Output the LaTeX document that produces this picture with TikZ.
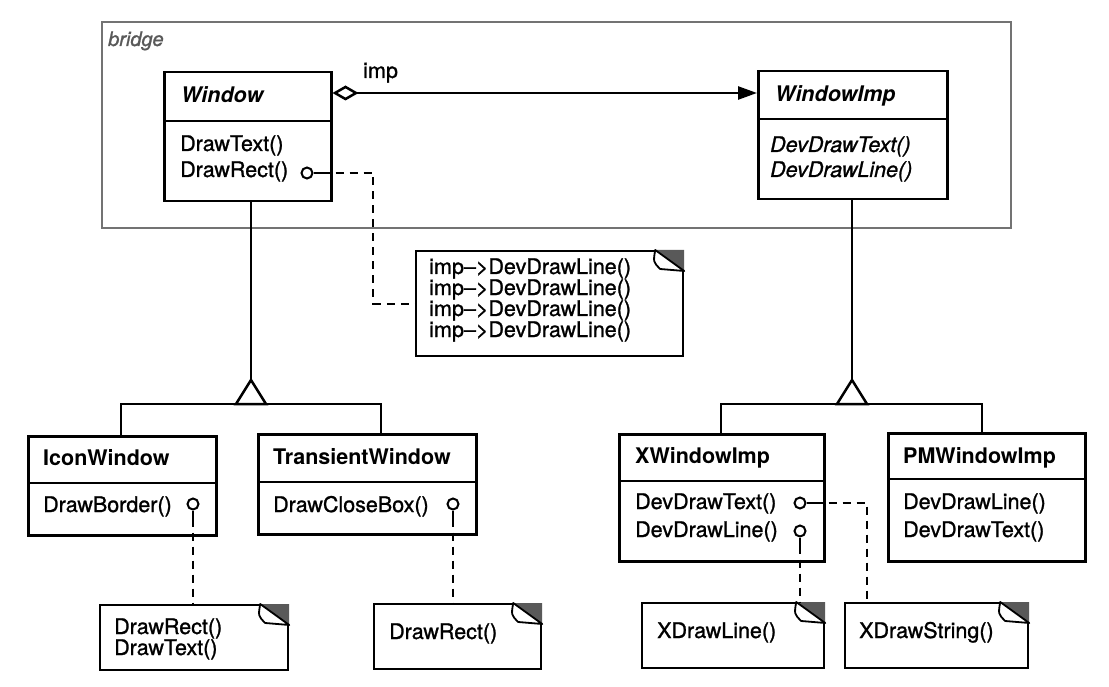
\documentclass[tikz,border=0pt]{standalone}
\usepackage{fontspec}
\setmainfont{TeX Gyre Heros}[UprightFeatures={FakeBold=1.1},ItalicFeatures={FakeBold=1.1}]
\usetikzlibrary{arrows.meta,calc}

% folded top-right corner of a note
\newcommand\dogear[1]{%
  \fill[black!65] ($(#1.north east)+(-29,0)$) -- (#1.north east) -- ($(#1.north east)+(0,21)$) -- cycle;
  \draw[line width=1.8pt, fill=white, line join=round]
    ($(#1.north east)+(-29,0)$) .. controls ($(#1.north east)+(-31,12)$) .. ($(#1.north east)+(-24,19)$)
    -- ($(#1.north east)+(0,21)$) -- cycle;
}

\begin{document}
\begin{tikzpicture}[x=1pt,y=-1pt,
  classbox/.style={draw, line width=2.5pt, inner sep=0pt, anchor=north west},
  notebox/.style={draw, line width=2.2pt, inner sep=0pt, anchor=north west, fill=white},
  lbl/.style={anchor=base west, inner sep=0pt, font=\fontsize{21.5}{24}\selectfont},
  title/.style={anchor=base west, inner sep=0pt, font=\fontsize{21.5}{24}\selectfont\bfseries},
  atitle/.style={anchor=base west, inner sep=0pt, font=\fontsize{21.5}{24}\selectfont\bfseries\itshape},
  aop/.style={anchor=base west, inner sep=0pt, font=\fontsize{21.5}{24}\selectfont\itshape},
  link/.style={line width=2.5pt},
  stem/.style={line width=2pt},
  noteline/.style={line width=2.2pt, dash pattern=on 8pt off 6pt},
  pin/.style={circle, draw, line width=2pt, minimum size=11pt, inner sep=0pt, fill=white},
  frame/.style={draw=black!55, line width=2.2pt, inner sep=0pt, anchor=north west}
]
\useasboundingbox (0,0) rectangle (1109,687);

% ---- bridge frame ----
\node[frame, minimum width=909pt, minimum height=206pt] (bridge) at (101,21) {};
\node[anchor=base west, inner sep=0pt, text=black!65, font=\fontsize{20}{22}\selectfont\itshape] (bridgelbl) at (108,46) {bridge};

% ---- abstraction side ----
\node[classbox, minimum width=167pt, minimum height=129pt] (win) at (163,71) {};
\draw[link] (win.west |- 0,121) -- (win.east |- 0,121);
\node[atitle] (winT) at (181,103) {Window};
\node[lbl] (winO1) at (180,151) {DrawText()};
\node[lbl] (winO2) at (180,177) {DrawRect()};

\node[classbox, minimum width=188pt, minimum height=99pt] (icon) at (27,435) {};
\draw[link] (icon.west |- 0,483) -- (icon.east |- 0,483);
\node[title] (iconT) at (43,465) {IconWindow};
\node[lbl] (iconO1) at (43,512) {DrawBorder()};

\node[classbox, minimum width=218pt, minimum height=100pt] (trans) at (257,433) {};
\draw[link] (trans.west |- 0,482) -- (trans.east |- 0,482);
\node[title] (transT) at (273,464) {TransientWindow};
\node[lbl] (transO1) at (273,512) {DrawCloseBox()};

% ---- implementation side ----
\node[classbox, minimum width=189pt, minimum height=128pt] (imp) at (757,70) {};
\draw[link] (imp.west |- 0,119) -- (imp.east |- 0,119);
\node[atitle] (impT) at (775,102) {WindowImp};
\node[aop] (impO1) at (770,152) {DevDrawText()};
\node[aop] (impO2) at (770,177) {DevDrawLine()};

\node[classbox, minimum width=205pt, minimum height=127pt] (xw) at (618,433) {};
\draw[link] (xw.west |- 0,481) -- (xw.east |- 0,481);
\node[title] (xwT) at (635,463) {XWindowImp};
\node[lbl] (xwO1) at (635,509) {DevDrawText()};
\node[lbl] (xwO2) at (635,537) {DevDrawLine()};

\node[classbox, minimum width=197pt, minimum height=128pt] (pm) at (887,432) {};
\draw[link] (pm.west |- 0,479) -- (pm.east |- 0,479);
\node[title] (pmT) at (903,463) {PMWindowImp};
\node[lbl] (pmO1) at (903,509) {DevDrawLine()};
\node[lbl] (pmO2) at (903,537) {DevDrawText()};

% ---- imp association ----
\draw[link, {Diamond[open, length=26pt, width=15pt]}-{Triangle[length=19pt, width=13pt]}]
  (win.east |- 0,93) -- (imp.west |- 0,93);
\node[lbl] (implbl) at (363,78) {imp};

% ---- generalisations ----
\coordinate (g1) at (251,380);
\draw[link] (g1 |- win.south) -- (g1);
\draw[link, line join=miter] (g1) -- ++(-15,24) -- ++(30,0) -- cycle;
\draw[link] (icon.north -| 121,0) |- ($(g1)+(0,24)$) -| (trans.north -| 381,0);

\coordinate (g2) at (852,380);
\draw[link] (g2 |- imp.south) -- (g2);
\draw[link, line join=miter] (g2) -- ++(-15,24) -- ++(30,0) -- cycle;
\draw[link] (xw.north -| 721,0) |- ($(g2)+(0,24)$) -| (pm.north -| 982,0);

% ---- notes ----
\node[notebox, minimum width=267pt, minimum height=105pt] (nmid) at (415,250) {};
\dogear{nmid}
\node[lbl] (nmidT1) at (429,274) {imp–>DevDrawLine()};
\node[lbl] (nmidT2) at (429,295) {imp–>DevDrawLine()};
\node[lbl] (nmidT3) at (429,316) {imp–>DevDrawLine()};
\node[lbl] (nmidT4) at (429,337) {imp–>DevDrawLine()};

\node[notebox, minimum width=188pt, minimum height=65pt] (n1) at (99,604) {};
\dogear{n1}
\node[lbl] (n1T1) at (114,634) {DrawRect()};
\node[lbl] (n1T2) at (114,655) {DrawText()};

\node[notebox, minimum width=167pt, minimum height=65pt] (n2) at (373,603) {};
\dogear{n2}
\node[lbl] (n2T) at (389,639) {DrawRect()};

\node[notebox, minimum width=182pt, minimum height=65pt] (n3) at (641,602) {};
\dogear{n3}
\node[lbl] (n3T) at (657,638) {XDrawLine()};

\node[notebox, minimum width=183pt, minimum height=65pt] (n4) at (844,602) {};
\dogear{n4}
\node[lbl] (n4T) at (859,638) {XDrawString()};

% ---- note pins and their dashed links ----
\node[pin] (p0) at (307,173) {};
\draw[stem] (p0.east) -- ++(8,0) coordinate (p0s);
\coordinate (b0) at (373,173);
\draw[noteline] (p0s) -- (b0) |- (nmid.west);

\node[pin] (p1) at (193,504) {};
\draw[stem] (p1.south) -- ++(0,8) coordinate (p1s);
\draw[noteline] (p1s) -- (p1s |- n1.north);

\node[pin] (p2) at (453,504) {};
\draw[stem] (p2.south) -- ++(0,8) coordinate (p2s);
\draw[noteline] (p2s) -- (p2s |- n2.north);

\node[pin] (p3) at (800,503) {};
\draw[stem] (p3.east) -- ++(8,0) coordinate (p3s);
\coordinate (b3) at (867,503);
\draw[noteline] (p3s) -- (b3) -- (b3 |- n4.north);

\node[pin] (p4) at (800,531) {};
\draw[stem] (p4.south) -- ++(0,8) coordinate (p4s);
\draw[noteline] (p4s) -- (p4s |- n3.north);

\end{tikzpicture}
\end{document}
